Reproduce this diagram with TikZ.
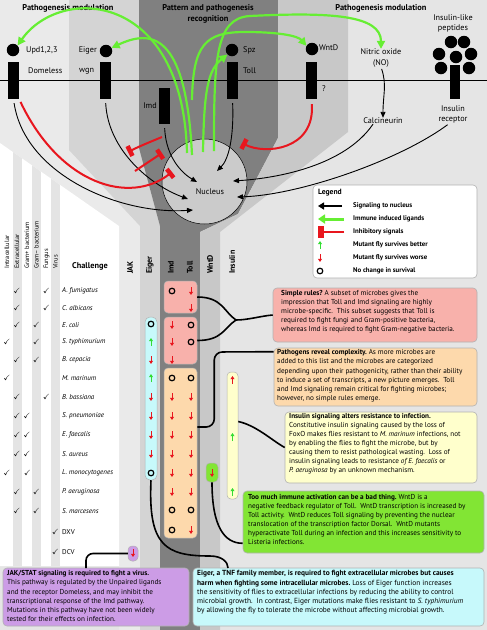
\documentclass[tikz,border=0pt]{standalone}
\usepackage{amssymb}
\usepackage{fontspec}
\setmainfont{PT Sans}
\usetikzlibrary{arrows.meta, positioning}

\definecolor{bandjak}{HTML}{EAEAEA}
\definecolor{bandeig}{HTML}{D4D4D4}
\definecolor{bandimd}{HTML}{808080}
\definecolor{bandwnt}{HTML}{C8C8C8}
\definecolor{bandins}{HTML}{E5E5E5}
\definecolor{stripe}{HTML}{E4E4E4}
\definecolor{nucfill}{HTML}{CBCBCB}
\definecolor{ligandgreen}{HTML}{66EE33}
\definecolor{inhibred}{HTML}{E8161E}
\definecolor{betgreen}{HTML}{33DD33}
\definecolor{pinkbox}{HTML}{F8B1AB}
\definecolor{peachbox}{HTML}{FDD9AC}
\definecolor{yellowbox}{HTML}{FFFFCC}
\definecolor{greenbox}{HTML}{82E534}
\definecolor{cyanbox}{HTML}{C7F9FB}
\definecolor{purplebox}{HTML}{CC9CE6}

\tikzset{
  receptor/.style={fill=black, minimum width=11pt, minimum height=37pt, inner sep=0pt},
  ligand/.style={circle, fill=black, minimum size=12.5pt, inner sep=0pt},
  lbl/.style={font=\fontsize{8.2}{10}\selectfont, inner sep=0pt},
  heading/.style={font=\bfseries\fontsize{8.4}{10.5}\selectfont, inner sep=0pt, align=center},
  induced/.style={ligandgreen, line width=2.2pt, -{Triangle[length=8pt,width=8pt]}},
  signal/.style={black, line width=0.9pt, -{Triangle[length=6pt,width=5pt]}},
  inhibit/.style={inhibred, line width=2pt, -{Rectangle[length=4.5pt,width=11pt]}},
  link/.style={black, line width=1.6pt},
  better/.style={betgreen, line width=1pt, -{Triangle[length=3.2pt,width=4pt]}},
  worse/.style={inhibred, line width=1pt, -{Triangle[length=3.2pt,width=4pt]}},
  nochange/.style={black, line width=1.2pt},
  cellbox/.style={rounded corners=4pt, draw=black!30, line width=0.5pt, inner sep=0pt},
  textbox/.style={rounded corners=4pt, draw=black!30, line width=0.6pt, inner sep=0pt},
  boxtext/.style={font=\fontsize{7.2}{9.1}\selectfont, align=left, anchor=north west, inner sep=0pt},
  legtext/.style={font=\bfseries\fontsize{6.8}{8}\selectfont, anchor=west, inner sep=0pt},
  typehdr/.style={font=\fontsize{6.4}{7}\selectfont, rotate=90, anchor=west, inner sep=0pt},
  colhdr/.style={font=\bfseries\fontsize{8}{9}\selectfont, rotate=90, anchor=west, inner sep=0pt},
  org/.style={font=\itshape\fontsize{7}{8}\selectfont, anchor=west, inner sep=0pt},
  chk/.style={font=\fontsize{7.5}{8}\selectfont, inner sep=0pt}
}

\begin{document}
\begin{tikzpicture}[x=1pt, y=-1pt]
\useasboundingbox (0,0) rectangle (487,630);

% Bands
\fill[bandins] (0,0) rectangle (487,630);
\fill[bandjak] (0,0) -- (69,0) -- (69,150) -- (140,226) -- (140,630) -- (119,630) -- (119,226) -- (0,143) -- cycle;
\fill[bandeig] (69,0) -- (139,0) -- (139,148) -- (160,226) -- (160,630) -- (140,630) -- (140,226) -- (69,150) -- cycle;
\fill[bandimd] (139,0) -- (278,0) -- (278,138) -- (238,214) -- (200,232) -- (200,630) -- (160,630) -- (160,226) -- (139,148) -- cycle;
\fill[bandwnt] (278,0) -- (348,0) -- (348,132) -- (220,232) -- (220,630) -- (200,630) -- (200,232) -- (238,214) -- (278,138) -- cycle;

% Table background
\fill[white] (0,143) -- (119,226) -- (119,566) -- (0,566) -- cycle;
\begin{scope}
  \clip (0,143) -- (119,226) -- (119,566) -- (0,566) -- cycle;
  \foreach \x in {13,32,51} \fill[stripe] (\x,0) rectangle ++(9,630);
\end{scope}

% Titles
\node[heading] (titleL) at (68,8) {Pathogenesis modulation};
\node[heading] (titleM) at (208,14) {Pattern and pathogenesis\\recognition};
\node[heading] (titleR) at (381,8) {Pathogenesis modulation};

% Membrane
\draw[line width=1pt] (0,80) -- (487,80);

% Receptors and ligands
\node[receptor] (dome) at (13.5,80.5) {};
\node[receptor] (wgn) at (105.5,80.5) {};
\node[receptor, minimum height=36pt] (imd) at (164.5,106) {};
\node[receptor] (toll) at (232.5,80.5) {};
\node[receptor] (wntr) at (311.5,80.5) {};
\node[receptor, minimum width=10pt, minimum height=34pt] (insr) at (455,82) {};

\node[ligand] (upd) at (13,50) {};
\node[ligand] (eig) at (106,51) {};
\node[ligand] (spz) at (232,50) {};
\node[ligand] (wnt) at (312,49) {};
\foreach \x/\y [count=\i] in {451/42, 464/42, 439/54, 456/57, 471/54, 441/68, 469/68}
  \node[ligand] (pep\i) at (\x,\y) {};

\node[lbl, anchor=west] (updlbl) at (26,50) {Upd1,2,3};
\node[lbl, anchor=west] (domelbl) at (28,71) {Domeless};
\node[lbl, anchor=east] (eiglbl) at (97,50) {Eiger};
\node[lbl, anchor=west] (wgnlbl) at (79,71) {wgn};
\node[lbl, anchor=east] (imdlbl) at (157,106) {Imd};
\node[lbl, anchor=west] (spzlbl) at (243,50) {Spz};
\node[lbl, anchor=west] (tolllbl) at (243,71) {Toll};
\node[lbl, anchor=west] (wntlbl) at (319,48) {WntD};
\node[lbl, anchor=west] (qlbl) at (322,89) {?};
\node[lbl] (nolbl) at (381,52) {Nitric oxide};
\node[lbl] (nolbl2) at (381,63) {(NO)};
\node[lbl] (calc) at (383,121) {Calcineurin};
\node[lbl, align=center] (peplbl) at (453,23) {Insulin-like\\peptides};
\node[lbl, align=center] (insrlbl) at (453,114) {Insulin\\receptor};

% Nucleus
\node[circle, draw, fill=nucfill, line width=0.5pt, minimum size=85pt, inner sep=0pt] (nuc) at (204.5,181.5) {};
\node[lbl] (nuclbl) at (210,192) {Nucleus};

% Immune induced ligands
\coordinate (g1) at (187,153);
\coordinate (g2) at (192,155);
\coordinate (g3) at (203,152);
\coordinate (g4) at (214,151);
\coordinate (g5) at (192,100);
\coordinate (gtop) at (250,16);
\coordinate (gmid) at (245,32);
\draw[induced] (g1) .. controls (183,-10) and (60,-15) .. (upd.north east);
\draw[induced] (g2) .. controls (186,30) and (150,30) .. (eig.30);
\draw[induced] (g3) .. controls (204,90) and (208,70) .. (spz.225);
\draw[induced] (g5) .. controls (193,45) and (205,32) .. (gmid) .. controls (280,32) and (298,36) .. (wnt.150);
\draw[induced] (g4) .. controls (214,60) and (215,18) .. (gtop) .. controls (330,12) and (381,15) .. (nolbl.north);

% Signaling to nucleus
\coordinate (n1) at (193,210);
\coordinate (n2) at (188,199);
\coordinate (n3) at (197,182);
\coordinate (n4) at (217,171);
\coordinate (n5) at (233,181);
\coordinate (n6) at (237,197);
\draw[signal, shorten <=4pt] (dome.south) .. controls (25,175) and (120,215) .. (n1);
\draw[signal, shorten <=4pt] (wgn.south) .. controls (108,150) and (150,185) .. (n2);
\draw[signal, shorten <=4pt] (imd.south) .. controls (166,160) and (185,175) .. (n3);
\draw[signal, shorten <=4pt] (toll.south) .. controls (234,140) and (228,160) .. (n4);
\draw[signal] ([xshift=-10pt]calc.south) .. controls (345,165) and (280,178) .. (n5);
\draw[signal, shorten <=3pt] ([xshift=-3pt]insrlbl.south) .. controls (400,160) and (300,195) .. (n6);
\draw[signal, shorten <=2pt] (nolbl2.south) .. controls (387,85) and (383,95) .. (calc.north);

% Inhibitory signals
\coordinate (r1) at (172,172);
\coordinate (r2a) at (162,137);
\coordinate (r2) at (128,152);
\coordinate (r3a) at (135,171);
\coordinate (r3) at (162,153);
\coordinate (r4) at (242,143);
\draw[inhibit, shorten <=3pt] (dome.south east) .. controls (60,185) and (130,205) .. (r1);
\draw[inhibit] (r2a) .. controls (150,142) and (140,146) .. (r2);
\draw[inhibit] (r3a) -- (r3);
\draw[inhibit, shorten <=5pt] (wntr.south) .. controls (315,150) and (265,155) .. (r4);

% Legend
\node[textbox, fill=white, minimum width=164pt, minimum height=93pt] (legend) at (395,231.5) {};
\node[font=\bfseries\fontsize{7.6}{8}\selectfont, anchor=west, inner sep=0pt] (legtitle) at (318,193) {Legend};
\draw[black, line width=1.8pt, -{Triangle[length=6pt,width=7pt]}] (342,206) -- (318,206);
\draw[ligandgreen, line width=3pt, -{Triangle[length=7pt,width=9pt]}] (344,219) -- (318,219);
\draw[inhibred, line width=2pt, -{Rectangle[length=6pt,width=12pt]}] (344,232) -- (318,232);
\draw[better] (320,249) -- (320,241);
\draw[worse] (320,254) -- (320,262);
\draw[nochange] (320,271) circle (2.8pt);
\node[legtext] (leg1) at (353,206) {Signaling to nucleus};
\node[legtext] (leg2) at (353,219) {Immune induced ligands};
\node[legtext] (leg3) at (353,232) {Inhibitory signals};
\node[legtext] (leg4) at (353,245) {Mutant fly survives better};
\node[legtext] (leg5) at (353,258) {Mutant fly survives worse};
\node[legtext] (leg6) at (353,271) {No change in survival};

% Table headers
\node[typehdr] (h1) at (7,269) {Intracellular};
\node[typehdr] (h2) at (17,269) {Extracellular};
\node[typehdr] (h3) at (27,269) {Gram+ bacterium};
\node[typehdr] (h4) at (36.5,269) {Gram– bacterium};
\node[typehdr] (h5) at (46.5,269) {Fungus};
\node[typehdr] (h6) at (55.5,269) {Virus};
\node[font=\bfseries\fontsize{8.3}{9}\selectfont, inner sep=0pt] (chal) at (90,266) {Challenge};
\foreach \x/\t [count=\i] in {130/JAK/STAT, 150/Eiger, 171/Imd, 190/Toll, 210/WntD, 232/Insulin}
  \node[colhdr] (c\i) at (\x,274) {\t};

% Challenges
\foreach \t/\y [count=\i] in {A. fumigatus/291, C. albicans/308, E. coli/325, S. typhimurium/342,
    B. cepacia/360, M. marinum/378, B. bassiana/397, S. pneumoniae/416, E. faecalis/435,
    S. aureus/454, L. monocytogenes/473, P. aeruginosa/492, S. marcesens/511}
  \node[org] (o\i) at (62,\y) {\t};
\node[org, font=\fontsize{7}{8}\selectfont] (o14) at (62,532) {DXV};
\node[org, font=\fontsize{7}{8}\selectfont] (o15) at (62,552) {DCV};
\foreach \x/\y in {17/291, 46.5/291, 17/308, 46.5/308, 17/325, 36.5/325, 7/342, 36.5/342,
    17/360, 36.5/360, 7/378, 17/397, 46.5/397, 17/416, 27/416, 17/435, 27/435, 17/454, 27/454,
    7/473, 27.5/473, 17/492, 36.5/492, 17/511, 36.5/511, 55.5/532, 55.5/552}
  \node[chk] at (\x,\y) {$\checkmark$};

% Result columns
\node[cellbox, fill=pinkbox, minimum width=33pt, minimum height=32pt] (tollA) at (180.5,297) {};
\node[cellbox, fill=pinkbox, minimum width=33pt, minimum height=47pt] (tollB) at (180.5,340.5) {};
\node[cellbox, fill=peachbox, minimum width=33pt, minimum height=170pt] (tollC) at (180.5,453) {};
\node[cellbox, fill=cyanbox, rounded corners=5pt, minimum width=12pt, minimum height=163pt] (eigcol) at (151,398.5) {};
\node[cellbox, fill=purplebox, minimum width=10pt, minimum height=15pt] (jakcol) at (133,553.5) {};
\node[cellbox, fill=greenbox, minimum width=12pt, minimum height=19pt] (wntcol) at (212,472.5) {};
\node[cellbox, fill=yellowbox, minimum width=11pt, minimum height=127pt] (inscol) at (232.5,435.5) {};

\foreach \x/\y in {191/291, 191/308, 172/325, 172/342, 172/360,
    172/397, 191/397, 172/416, 191/416, 172/435, 191/435, 172/454, 191/454,
    172/473, 191/473, 172/492, 191/492, 191/530,
    151/360, 151/397, 151/416, 151/435, 151/454, 133/553, 212/473}
  \draw[worse] (\x,\y-4) -- (\x,\y+4);
\foreach \x/\y in {151/346, 151/382, 232.5/441, 232.5/496}
  \draw[better] (\x,\y) -- (\x,\y-8);
\draw[worse] (232.5,384) -- (232.5,376);
\foreach \x/\y in {172/291, 191/325, 191/342, 172/378, 191/378, 172/510, 191/510, 172/530,
    151/324, 151/473}
  \draw[nochange] (\x,\y) circle (2.8pt);

% Text boxes
\node[textbox, fill=pinkbox, minimum width=204pt, minimum height=54pt] (simple) at (375,315) {};
\node[boxtext] (simpletxt) at (281,290) {\textbf{Simple rules?}\ A subset of microbes gives the\\
impression that Toll and Imd signaling are highly\\
microbe-specific.\ \ This subset suggests that Toll is\\
required to fight fungi and Gram-positive bacteria,\\
whereas Imd is required to fight Gram-negative bacteria.};

\node[textbox, fill=peachbox, minimum width=203pt, minimum height=58pt] (complex) at (375.5,377) {};
\node[boxtext] (complextxt) at (277,349.5) {\textbf{Pathogens reveal complexity.}\ As more microbes are\\
added to this list and the microbes are categorized\\
depending upon their pathogenicity, rather than their ability\\
to induce a set of transcripts, a new picture emerges.\ \ Toll\\
and Imd signaling remain critical for fighting microbes;\\
however, no simple rules emerge.};

\node[textbox, fill=yellowbox, minimum width=192pt, minimum height=71pt] (insul) at (381,447.5) {};
\node[boxtext] (insultxt) at (289,413) {\textbf{Insulin signaling alters resistance to infection.}\\
Constitutive insulin signaling caused by the loss of\\
FoxO makes flies resistant to \textit{M. marinum} infections, not\\
by enabling the flies to fight the microbe, but by\\
causing them to resist pathological wasting.\ \ Loss of\\
insulin signaling leads to resistance \textit{of E. faecalis} or\\
\textit{P. aeruginosa} by an unknown mechanism.};

\node[textbox, fill=greenbox, minimum width=241pt, minimum height=62pt] (toomuch) at (363.5,522) {};
\node[boxtext] (toomuchtxt) at (248,494) {\textbf{Too much immune activation can be a bad thing.}\ WntD is a\\
negative feedback regulator of Toll.\ \ WntD transcription is increased by\\
Toll activity.\ \ WntD reduces Toll signaling by preventing the nuclear\\
translocation of the transcription factor Dorsal.\ \ WntD mutants\\
hyperactivate Toll during an infection and this increases sensitivity to\\
Listeria infections.};

\node[textbox, fill=purplebox, minimum width=186pt, minimum height=58pt] (jak) at (96,597) {};
\node[boxtext] (jaktxt) at (7,570.5) {\textbf{JAK/STAT signaling is required to fight a virus.}\\
This pathway is regulated by the Unpaired ligands\\
and the receptor Domeless, and may inhibit the\\
transcriptional response of the Imd pathway.\\
Mutations in this pathway have not been widely\\
tested for their effects on infection.};

\node[textbox, fill=cyanbox, minimum width=291pt, minimum height=58pt] (eigr) at (338.5,597) {};
\node[boxtext, font=\fontsize{7.4}{9.1}\selectfont] (eigrtxt) at (197,570.5) {\textbf{Eiger, a TNF family member, is required to fight extracellular microbes but causes}\\
\textbf{harm when fighting some intracellular microbes.}\ Loss of Eiger function increases\\
the sensitivity of flies to extracellular infections by reducing the ability to control\\
microbial growth.\ \ In contrast, Eiger mutations make flies resistant to \textit{S. typhimurium}\\
by allowing the fly to tolerate the microbe without affecting microbial growth.};

% Connectors
\coordinate (fork) at (236,320);
\coordinate (cplxrow) at (0,427);
\coordinate (eigbend) at (210,556);
\coordinate (eigin) at (228,568);
\coordinate (jakin) at (86,568);
\draw[link] (tollA.east) .. controls +(25,0) and +(-12,-8) .. (fork);
\draw[link] (tollB.east) .. controls +(25,0) and +(-12,8) .. (fork);
\draw[link] (fork) .. controls +(12,0) and +(-12,1) .. (simple.west);
\draw[link, rounded corners=8pt] (tollC.east |- cplxrow) -- ++(17,0) -- ++(0,-75) -- ([yshift=-4pt]complex.north west);
\draw[link] ([yshift=14pt]inscol.east) .. controls +(18,4) and +(-14,-8) .. (insul.west);
\draw[link] (wntcol.south) .. controls +(0,45) and +(-18,0) .. ([yshift=10pt]toomuch.south west);
\draw[link] (eigcol.south) .. controls +(-3,65) and +(-45,0) .. (eigbend) .. controls +(12,0) and +(0,-6) .. (eigin);
\draw[link, rounded corners=7pt] (jakcol.west) -| (jakin);
\end{tikzpicture}
\end{document}
